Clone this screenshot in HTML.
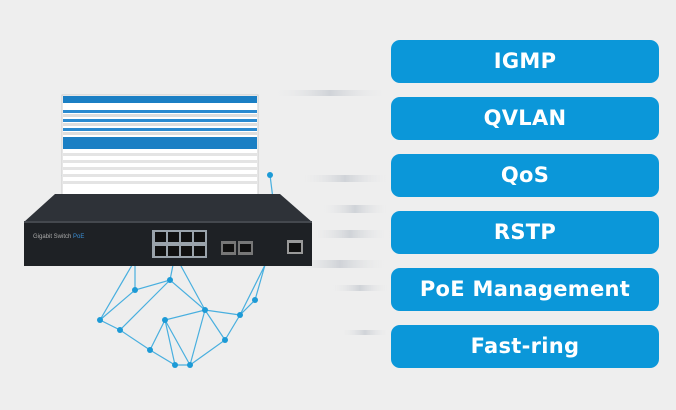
<!DOCTYPE html>
<html><head><meta charset="utf-8"><style>
html,body{margin:0;padding:0}
body{width:676px;height:410px;overflow:hidden;background:#eeeeee;position:relative;font-family:"Liberation Sans","DejaVu Sans",sans-serif}
.b{position:absolute;left:391px;width:268px;height:43px;background:#0b97d9;border-radius:9px;color:#fff;font-weight:bold;font-size:21px;line-height:43px;text-align:center;letter-spacing:0.3px;font-family:"DejaVu Sans","Liberation Sans",sans-serif}
svg{position:absolute;left:0;top:0}
</style></head><body>
<svg width="676" height="410">
<defs>
<linearGradient id="st" x1="0" x2="1"><stop offset="0" stop-color="#eee" stop-opacity="0"/><stop offset=".5" stop-color="#c8ccd2"/><stop offset="1" stop-color="#eee" stop-opacity="0"/></linearGradient>
</defs>
<g opacity=".8">
<rect x="270" y="90" width="120" height="6" fill="url(#st)"/>
<rect x="300" y="175" width="90" height="7" fill="url(#st)"/>
<rect x="320" y="205" width="70" height="8" fill="url(#st)"/>
<rect x="310" y="230" width="80" height="8" fill="url(#st)"/>
<rect x="290" y="260" width="100" height="8" fill="url(#st)"/>
<rect x="330" y="285" width="60" height="6" fill="url(#st)"/>
<rect x="340" y="330" width="50" height="5" fill="url(#st)"/>
</g>
<g stroke="#2aa3dc" stroke-width="1.2" fill="none" opacity=".85">
<path d="M135 260 L100 320 L120 330 L150 350 L175 365 L190 365 L225 340 L240 315 L255 300 L265 265 M100 320 L135 290 L170 280 L205 310 L225 340 M120 330 L150 300 L170 280 M150 350 L165 320 L205 310 L240 315 M175 365 L165 320 L190 365 M205 310 L190 365 M135 290 L135 260 M170 280 L175 255 L205 310 M240 315 L265 265 L255 300 M62 175 L65 215 M270 175 L275 215"/>
</g>
<g fill="#1c9ad6">
<circle cx="100" cy="320" r="3"/><circle cx="120" cy="330" r="3"/><circle cx="150" cy="350" r="3"/><circle cx="175" cy="365" r="3"/><circle cx="190" cy="365" r="3"/><circle cx="225" cy="340" r="3"/><circle cx="240" cy="315" r="3"/><circle cx="255" cy="300" r="3"/><circle cx="135" cy="290" r="3"/><circle cx="170" cy="280" r="3"/><circle cx="205" cy="310" r="3"/><circle cx="165" cy="320" r="3"/><circle cx="270" cy="175" r="3"/>
</g>
<rect x="62" y="95" width="196" height="100" fill="#fff" stroke="#ccc"/>
<rect x="63" y="96" width="194" height="7" fill="#1b7fc4"/>
<rect x="63" y="110" width="194" height="3" fill="#2a8ad0"/>
<rect x="63" y="114" width="194" height="3" fill="#ddd"/>
<rect x="63" y="119" width="194" height="3" fill="#2a8ad0"/>
<rect x="63" y="123" width="194" height="3" fill="#ddd"/>
<rect x="63" y="128" width="194" height="3" fill="#2a8ad0"/>
<rect x="63" y="132" width="194" height="3" fill="#ddd"/>
<rect x="63" y="137" width="194" height="12" fill="#1b7fc4"/>
<g fill="#e4e4e4"><rect x="63" y="153" width="194" height="3"/><rect x="63" y="160" width="194" height="3"/><rect x="63" y="167" width="194" height="3"/><rect x="63" y="174" width="194" height="3"/><rect x="63" y="181" width="194" height="3"/></g>
<path d="M55 194 L280 194 L312 222 L24 222 Z" fill="#2e3238"/>
<rect x="24" y="222" width="288" height="44" fill="#1e2125"/>
<rect x="24" y="221" width="288" height="2" fill="#44484e"/>
<rect x="152" y="230" width="55" height="28" fill="#9aa3ab"/>
<g fill="#111"><rect x="155" y="232" width="11" height="10"/><rect x="168" y="232" width="11" height="10"/><rect x="181" y="232" width="11" height="10"/><rect x="194" y="232" width="11" height="10"/><rect x="155" y="246" width="11" height="10"/><rect x="168" y="246" width="11" height="10"/><rect x="181" y="246" width="11" height="10"/><rect x="194" y="246" width="11" height="10"/></g>
<rect x="221" y="241" width="15" height="14" fill="#777"/><rect x="223" y="244" width="11" height="8" fill="#111"/>
<rect x="238" y="241" width="15" height="14" fill="#777"/><rect x="240" y="244" width="11" height="8" fill="#111"/>
<rect x="287" y="240" width="16" height="14" fill="#999"/><rect x="289" y="243" width="12" height="9" fill="#111"/>
<text x="33" y="238" fill="#aaa" font-size="6" font-family="Liberation Sans">Gigabit Switch <tspan fill="#3a8fd6">PoE</tspan></text>
</svg>
<div class="b" style="top:40px">IGMP</div>
<div class="b" style="top:97px">QVLAN</div>
<div class="b" style="top:154px">QoS</div>
<div class="b" style="top:211px">RSTP</div>
<div class="b" style="top:268px">PoE Management</div>
<div class="b" style="top:325px">Fast-ring</div>
</body></html>
